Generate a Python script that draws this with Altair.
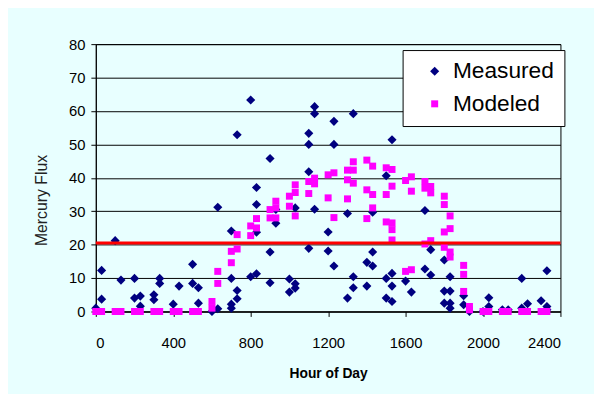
import altair as alt
import pandas as pd

# Measured mercury flux (Hour of Day in HHMM format)
measured_time = [0, 30, 30, 100, 130, 200, 200, 230, 230, 300, 300, 330, 330, 400, 430, 500, 500, 530, 530,
                 600, 630, 630, 700, 700, 700, 700, 730, 730, 730, 800, 800, 830, 830, 830, 830, 900, 900, 900, 930, 930,
                 1000, 1000, 1030, 1030, 1030, 1100, 1100, 1100, 1100, 1130, 1130, 1130, 1200, 1200, 1230, 1230, 1230,
                 1300, 1300, 1330, 1330, 1330, 1400, 1400, 1430, 1430, 1430, 1500, 1500, 1500, 1530, 1530, 1530, 1530,
                 1600, 1630, 1700, 1700, 1730, 1730, 1800, 1800, 1800, 1830, 1830, 1830, 1830, 1900, 1900, 1930, 2000,
                 2030, 2030, 2100, 2130, 2200, 2200, 2230, 2300, 2330, 2330, 2330]
measured_flux = [1, 12.3, 3.7, 21.2, 9.4, 9.9, 4, 4.6, 1.6, 5, 3.5, 9.9, 8.4, 2.2, 7.6, 14.1, 8.4, 7.1, 2.5,
                 0, 31.2, 0.8, 24.1, 9.9, 2.2, 1, 52.9, 6.3, 3.8, 63.3, 10.4, 37.1, 32, 23.7, 11.3, 45.8, 17.8, 8.6, 30.5, 26.4,
                 9.7, 5.8, 31, 8.3, 7, 53.3, 50, 41.8, 18.9, 61.3, 59.2, 30.6, 23.8, 18.1, 56.9, 50, 13.6,
                 29.3, 4, 59.2, 10.4, 7.1, 14.7, 7.6, 29.7, 17.8, 13.6, 40.6, 9.9, 4, 51.4, 11.4, 7.6, 3,
                 9.1, 5.8, 30.2, 12.7, 18.5, 10.9, 15.4, 6.1, 2.5, 10.4, 6.1, 2.5, 1, 4.7, 2, 0, 0,
                 4.1, 1.5, 0.5, 0.5, 9.9, 1, 2.3, 3.2, 12.2, 1.5, 0.5]

# Modeled mercury flux
modeled_time = [0, 30, 100, 130, 200, 230, 300, 330, 400, 430, 500, 530,
                600, 600, 630, 630, 700, 700, 730, 730, 800, 800, 830, 830, 900, 900, 930, 930, 930,
                1000, 1000, 1030, 1030, 1030, 1100, 1100, 1130, 1130, 1200, 1200, 1230, 1230,
                1300, 1300, 1300, 1330, 1330, 1330, 1400, 1400, 1400, 1430, 1430, 1430, 1500, 1500, 1500,
                1530, 1530, 1530, 1530, 1530, 1600, 1600, 1630, 1630, 1630, 1700, 1700, 1700, 1730, 1730, 1730,
                1800, 1800, 1800, 1800, 1830, 1830, 1830, 1830, 1900, 1900, 1900, 1930, 1930,
                2000, 2030, 2100, 2130, 2200, 2230, 2300, 2330]
modeled_flux = [0, 0, 0, 0, 0, 0, 0, 0, 0, 0, 0, 0,
                1, 3, 8.4, 12, 14.6, 18, 18.7, 23, 22.7, 25.6, 25, 27.8, 28, 30.5, 28, 31, 33,
                31.5, 34.5, 28.6, 35.6, 37.9, 35.3, 38.9, 38.2, 39.9, 34, 40.9, 28.1, 41.5,
                33.7, 39.4, 42.3, 38.4, 42.3, 44.8, 27.8, 36.4, 45.3, 31, 35, 43.5, 26.8, 35, 43,
                21.4, 24.5, 26.5, 37.5, 42.5, 12, 39.2, 12.5, 36, 40.3, 20.2, 36.9, 38.9, 21.2, 35.5, 37.4,
                19.2, 23.8, 32, 34.5, 16.3, 17.8, 24.8, 28.6, 6, 11.1, 13.8, 0.5, 1.5,
                0, 0, 0, 0, 0, 0, 0, 0]

threshold = [20.5]
series_names = ["Measured", "Modeled"]

df = pd.concat([
    pd.DataFrame({"time": measured_time, "flux": measured_flux, "series": "Measured"}),
    pd.DataFrame({"time": modeled_time, "flux": modeled_flux, "series": "Modeled"}),
], ignore_index=True)

FONT = "Liberation Sans"
BG = "#E8FFFF"

x_scale = alt.Scale(domain=[0, 2400], nice=False)
y_scale = alt.Scale(domain=[0, 80], nice=False)

y_axis = alt.Axis(values=list(range(0, 81, 10)), grid=True, gridColor="black", gridWidth=1,
                  tickSize=5, tickColor="black", domainColor="black", labelOverlap=False,
                  labelFontSize=15, labelFont=FONT, labelColor="black", labelPadding=6,
                  title="Mercury Flux", titleFont=FONT, titleFontSize=16,
                  titleFontWeight="normal", titleColor="#222222",
                  titleX=-55, titleY=158, titleBaseline="middle", titleAlign="center")

points = alt.Chart(df).mark_point(filled=True, opacity=1, strokeWidth=0).encode(
    x=alt.X("time:Q", scale=x_scale,
            axis=alt.Axis(values=list(range(0, 2401, 400)), format="d", grid=False,
                          tickSize=5, tickColor="black", domainColor="black",
                          labelFontSize=15, labelFont=FONT, labelColor="black", labelPadding=19,
                          title="Hour of Day", titleFont=FONT, titleFontSize=14,
                          titleFontWeight="bold", titleColor="black",
                          titleY=63, titleBaseline="middle")),
    y=alt.Y("flux:Q", scale=y_scale, axis=y_axis),
    color=alt.Color("series:N", scale=alt.Scale(domain=series_names, range=["#000080", "#FF00FF"]),
                    legend=alt.Legend(title=None, orient="none", legendX=311, legendY=6,
                                      fillColor="white", strokeColor="black", padding=10,
                                      labelFontSize=23, labelFont=FONT, labelColor="black",
                                      symbolSize=60, symbolOffset=11, labelOffset=7, rowPadding=9)),
    shape=alt.Shape("series:N", scale=alt.Scale(domain=series_names, range=["diamond", "square"])),
    size=alt.Size("series:N", scale=alt.Scale(domain=series_names, range=[85, 50]), legend=None),
)

rule = alt.Chart(pd.DataFrame({"y": threshold})).mark_rule(color="#FF0000", strokeWidth=3).encode(
    y=alt.Y("y:Q", scale=y_scale, axis=y_axis)
)

chart = alt.layer(points, rule).properties(
    width=471, height=271,
    background=BG,
    autosize=alt.AutoSizeParams(type="none"),
    padding={"left": 89, "top": 34, "right": 34, "bottom": 81},
).configure_view(stroke="black", strokeWidth=1, fill=BG)

chart.save("out.html", embed_options={"renderer": "svg", "actions": False})
